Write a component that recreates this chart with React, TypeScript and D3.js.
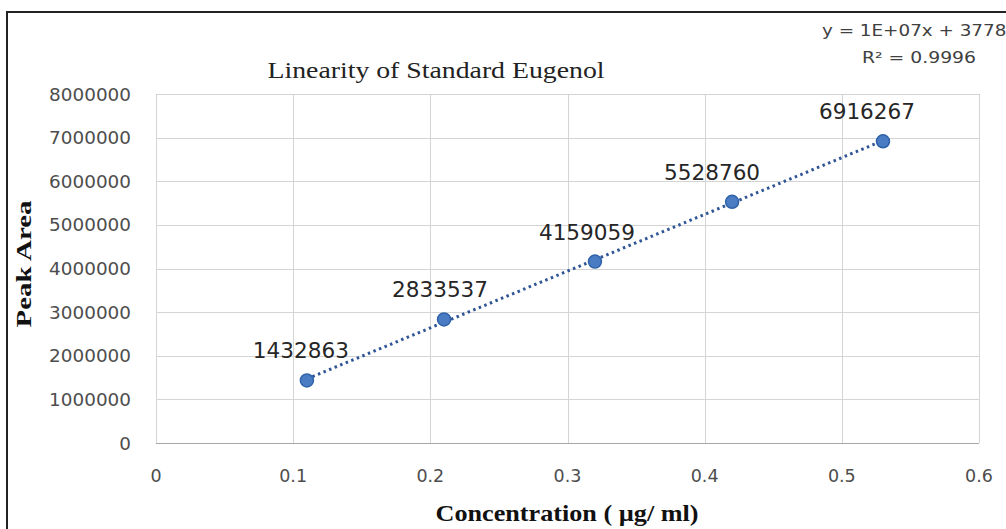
import React, { useEffect, useRef } from "react";
import * as d3 from "d3";

const concentrations = [0.11, 0.21, 0.32, 0.42, 0.53];
const peakAreas = [1432863, 2833537, 4159059, 5528760, 6916267];
const xTicks = [0, 0.1, 0.2, 0.3, 0.4, 0.5, 0.6];
const yTicks = [0, 1000000, 2000000, 3000000, 4000000, 5000000, 6000000, 7000000, 8000000];
const labelShift = [-6, -4, -8, -20, -16];

const W = 1006;
const H = 529;

const App = () => {
  const svgRef = useRef<SVGSVGElement>(null);

  useEffect(() => {
    const svg = d3.select(svgRef.current);
    svg.selectAll("*").remove();

    const x = d3.scaleLinear().domain([0, 0.6]).range([156, 979]);
    const y = d3.scaleLinear().domain([0, 8000000]).range([443, 94]);

    svg.append("rect").attr("width", W).attr("height", H).attr("fill", "#fff");

    // outer chart border (runs off the right and bottom)
    svg
      .append("path")
      .attr("d", `M7,${H + 5} V12 H${W + 5}`)
      .attr("fill", "none")
      .attr("stroke", "#222")
      .attr("stroke-width", 2);

    // grid
    const grid = svg.append("g").attr("stroke", "#d4d4d4").attr("stroke-width", 1);
    grid
      .selectAll("line.h")
      .data(yTicks)
      .join("line")
      .attr("x1", x(0))
      .attr("x2", x(0.6))
      .attr("y1", (d) => Math.round(y(d)) + 0.5)
      .attr("y2", (d) => Math.round(y(d)) + 0.5);
    grid
      .selectAll("line.v")
      .data(xTicks)
      .join("line")
      .attr("class", "v")
      .attr("y1", y(0))
      .attr("y2", y(8000000))
      .attr("x1", (d) => Math.round(x(d)) + 0.5)
      .attr("x2", (d) => Math.round(x(d)) + 0.5);

    // axis baseline
    svg
      .append("line")
      .attr("x1", x(0))
      .attr("x2", x(0.6))
      .attr("y1", Math.round(y(0)) + 0.5)
      .attr("y2", Math.round(y(0)) + 0.5)
      .attr("stroke", "#a6a6a6");

    const tickFont = "'DejaVu Sans', sans-serif";

    svg
      .append("g")
      .selectAll("text")
      .data(yTicks)
      .join("text")
      .attr("x", 131)
      .attr("y", (d) => y(d) + 6.5)
      .attr("text-anchor", "end")
      .attr("font-family", tickFont)
      .attr("font-size", 17.5)
      .attr("fill", "#4d4d4d")
      .attr("textLength", (d) => String(d).length * 11.7)
      .attr("lengthAdjust", "spacingAndGlyphs")
      .text((d) => String(d));

    svg
      .append("g")
      .selectAll("text")
      .data(xTicks)
      .join("text")
      .attr("x", (d) => x(d))
      .attr("y", 482)
      .attr("text-anchor", "middle")
      .attr("font-family", tickFont)
      .attr("font-size", 17.5)
      .attr("fill", "#4d4d4d")
      .text((d) => String(d));

    // trendline (least squares)
    const mx = d3.mean(concentrations)!;
    const my = d3.mean(peakAreas)!;
    const sxy = d3.sum(concentrations, (c, i) => (c - mx) * (peakAreas[i] - my));
    const sxx = d3.sum(concentrations, (c) => (c - mx) ** 2);
    const slope = sxy / sxx;
    const icpt = my - slope * mx;
    const x0 = concentrations[0];
    const x1 = concentrations[concentrations.length - 1];
    svg
      .append("line")
      .attr("x1", x(x0))
      .attr("y1", y(slope * x0 + icpt))
      .attr("x2", x(x1))
      .attr("y2", y(slope * x1 + icpt))
      .attr("stroke", "#2f5597")
      .attr("stroke-width", 3)
      .attr("stroke-dasharray", "2.5 3.5");

    const pts = concentrations.map((c, i) => ({ c, v: peakAreas[i], i }));

    svg
      .append("g")
      .selectAll("circle")
      .data(pts)
      .join("circle")
      .attr("cx", (d) => x(d.c))
      .attr("cy", (d) => y(d.v))
      .attr("r", 6.5)
      .attr("fill", "#4a7cc4")
      .attr("stroke", "#2f62a8")
      .attr("stroke-width", 1.5);

    svg
      .append("g")
      .selectAll("text")
      .data(pts)
      .join("text")
      .attr("x", (d) => x(d.c) + labelShift[d.i])
      .attr("y", (d) => y(d.v) - 22)
      .attr("text-anchor", "middle")
      .attr("font-family", tickFont)
      .attr("font-size", 21)
      .attr("fill", "#262626")
      .attr("textLength", 96)
      .attr("lengthAdjust", "spacingAndGlyphs")
      .text((d) => String(d.v));

    // title
    svg
      .append("text")
      .attr("x", 436)
      .attr("y", 78)
      .attr("text-anchor", "middle")
      .attr("font-family", "'Liberation Serif', serif")
      .attr("font-size", 24)
      .attr("fill", "#222")
      .attr("textLength", 337)
      .attr("lengthAdjust", "spacingAndGlyphs")
      .text("Linearity of Standard Eugenol");

    // equation
    const eq = svg
      .append("g")
      .attr("font-family", tickFont)
      .attr("font-size", 15.5)
      .attr("fill", "#404040");
    eq.append("text")
      .attr("x", 822)
      .attr("y", 36)
      .attr("textLength", 196)
      .attr("lengthAdjust", "spacingAndGlyphs")
      .text(`y = 1E+07x + ${Math.round(icpt)}`);
    eq.append("text")
      .attr("x", 862)
      .attr("y", 63)
      .attr("textLength", 114)
      .attr("lengthAdjust", "spacingAndGlyphs")
      .text("R² = 0.9996");

    // axis titles
    svg
      .append("text")
      .attr("transform", `translate(31,264) rotate(-90)`)
      .attr("text-anchor", "middle")
      .attr("font-family", "'Liberation Serif', serif")
      .attr("font-weight", "bold")
      .attr("font-size", 22)
      .attr("fill", "#111")
      .attr("textLength", 127)
      .attr("lengthAdjust", "spacingAndGlyphs")
      .text("Peak Area");

    svg
      .append("text")
      .attr("x", 567)
      .attr("y", 521)
      .attr("text-anchor", "middle")
      .attr("font-family", "'Liberation Serif', serif")
      .attr("font-weight", "bold")
      .attr("font-size", 23)
      .attr("fill", "#111")
      .attr("textLength", 263)
      .attr("lengthAdjust", "spacingAndGlyphs")
      .text("Concentration ( µg/ ml)");
  }, []);

  return (
    <svg
      ref={svgRef}
      width={W}
      height={H}
      style={{ position: "absolute", left: 0, top: 0, display: "block" }}
    />
  );
};

export default App;
